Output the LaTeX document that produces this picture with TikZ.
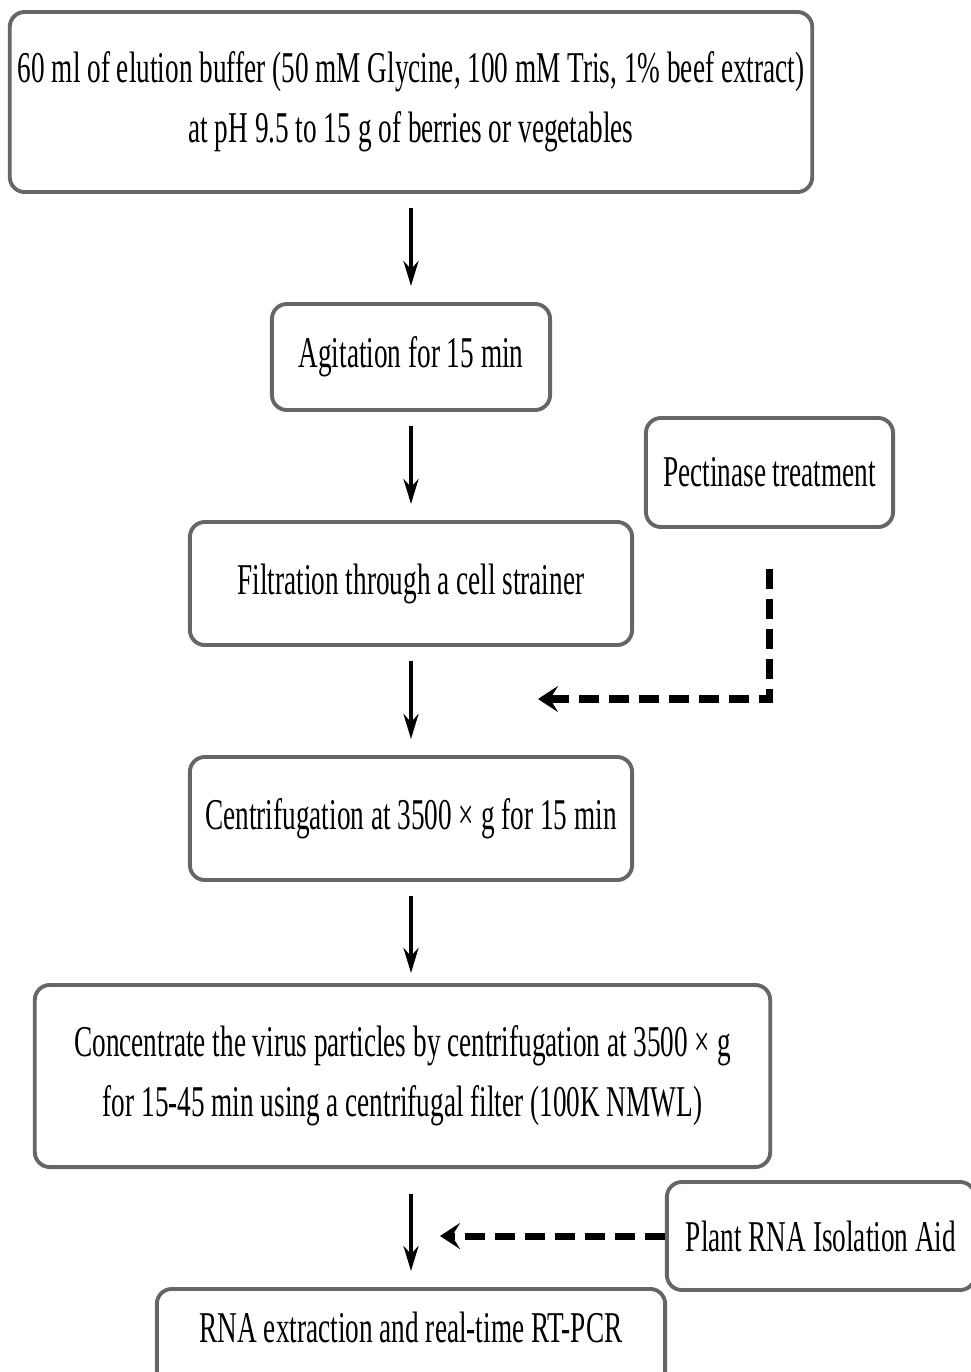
\documentclass[tikz,border=0pt]{standalone}
\usepackage{fontspec}
\setmainfont{Liberation Serif}[FakeStretch=0.62]
\usetikzlibrary{arrows.meta}

\begin{document}
\begin{tikzpicture}[x=0.01cm,y=-0.01cm,
    box/.style={draw=black!60,line width=1.1pt,rounded corners=0.15cm,align=center,inner sep=0pt,
      font=\fontsize{12.5}{17}\selectfont},
    flow/.style={-{Stealth[length=0.25cm,width=0.15cm]},line width=1.1pt,shorten <=0.14cm,shorten >=0.16cm},
    side/.style={-{Stealth[length=0.2cm,width=0.26cm,inset=0.08cm]},line width=2pt,dash pattern=on 0.2cm off 0.1cm}]
    \useasboundingbox (0,0) rectangle (971,1372);
    \clip (0,0) rectangle (971,1372);
    \node[box,minimum width=8.02cm,minimum height=1.8cm] (buffer) at (411,102)
      {60 ml of elution buffer (50 mM Glycine, 100 mM Tris, 1\% beef extract)\\at pH 9.5 to 15 g of berries or vegetables};
    \node[box,minimum width=2.78cm,minimum height=1.06cm] (agit) at (411,357) {Agitation for 15 min};
    \node[box,minimum width=2.47cm,minimum height=1.09cm] (pect) at (769.5,472.5) {Pectinase treatment};
    \node[box,minimum width=4.42cm,minimum height=1.23cm] (filt) at (411,583.5) {Filtration through a cell strainer};
    \node[box,minimum width=4.42cm,minimum height=1.23cm] (centr) at (411,818.5) {Centrifugation at 3500 × g for 15 min};
    \node[box,minimum width=7.35cm,minimum height=1.82cm] (conc) at (402.5,1076)
      {Concentrate the virus particles by centrifugation at 3500 × g\\for 15-45 min using a centrifugal filter (100K NMWL)};
    \node[box,minimum width=3.08cm,minimum height=1.08cm] (plant) at (821,1236) {Plant RNA Isolation Aid};
    \node[box,minimum width=5.08cm,text height=0.54cm,text depth=0.59cm,anchor=north] (rna) at (411,1287)
      {RNA extraction and real-time RT-PCR};
    % main flow
    \draw[flow] (buffer) -- (agit);
    \draw[flow] (agit) -- (filt);
    \draw[flow] (filt) -- (centr);
    \draw[flow,shorten >=0.1cm] (centr.south) -- (centr.south |- conc.north);
    \draw[flow,shorten <=0.25cm] (conc.south -| rna.north) -- (rna.north);
    % additions
    \coordinate (filtin) at (538,699);
    \coordinate (rnain) at (440,1236);
    \draw[side,shorten <=0.4cm] (pect.south) |- (filtin);
    \draw[side] (plant.west) -- (rnain);
  \end{tikzpicture}
\end{document}
